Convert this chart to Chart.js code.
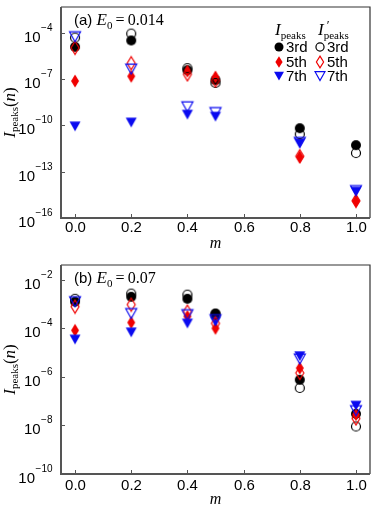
<!DOCTYPE html>
<html>
<head>
<meta charset="utf-8">
<script src="https://cdn.jsdelivr.net/npm/chart.js@4.4.0/dist/chart.umd.min.js"></script>
<style>
  html, body { margin: 0; padding: 0; background: #fff; }
  .panel { width: 382px; height: 258px; }
  canvas { display: block; }
</style>
</head>
<body>
<div class="panel"><canvas id="chartA" width="382" height="258"></canvas></div>
<div class="panel"><canvas id="chartB" width="382" height="258"></canvas></div>
<script>
const M_VALUES = [0.0, 0.2, 0.4, 0.5, 0.8, 1.0];
const X_TICKS = [0, 0.2, 0.4, 0.6, 0.8, 1.0];

// (a) E0 = 0.014
const A_Y_TICKS = [1e-16, 1e-13, 1e-10, 1e-7, 1e-4];
const A_PEAKS_3RD = [1.2e-5, 3.1e-5, 3.7e-7, 8.5e-8, 6.5e-11, 5.2e-12];
const A_PEAKS_5TH = [7.4e-8, 1.5e-7, 3.2e-7, 1.35e-7, 9.1e-13, 1.26e-15];
const A_PEAKS_7TH = [8.7e-11, 1.55e-10, 5.0e-10, 3.7e-10, 7.1e-12, 5.2e-15];
const A_PRIME_3RD = [4.8e-5, 8.7e-5, 5.0e-7, 5.5e-8, 2.7e-11, 1.6e-12];
const A_PRIME_5TH = [1.05e-5, 1.05e-6, 2.0e-7, 8.0e-8, 1.0e-12, 1.3e-15];
const A_PRIME_7TH = [5.5e-5, 4.4e-7, 1.6e-9, 6.8e-10, 8.0e-12, 6.0e-15];

// (b) E0 = 0.07
const B_Y_TICKS = [1e-10, 1e-8, 1e-6, 1e-4, 1e-2];
const B_PEAKS_3RD = [1.26e-3, 2.0e-3, 1.65e-3, 4.1e-4, 7.6e-7, 3.0e-8];
const B_PEAKS_5TH = [8.3e-5, 1.74e-4, 3.1e-4, 1.0e-4, 2.3e-6, 2.8e-8];
const B_PEAKS_7TH = [3.5e-5, 6.9e-5, 1.6e-4, 1.95e-4, 7.2e-6, 6.6e-8];
const B_PRIME_3RD = [1.65e-3, 2.7e-3, 2.45e-3, 3.8e-4, 3.5e-7, 9.1e-9];
const B_PRIME_5TH = [7.9e-4, 9.5e-4, 4.9e-4, 1.6e-4, 1.45e-6, 1.95e-8];
const B_PRIME_7TH = [1.26e-3, 4.1e-4, 3.7e-4, 2.3e-4, 5.5e-6, 4.1e-8];

const SANS = '"Liberation Sans", Arial, sans-serif';
const SERIF = '"Liberation Serif", "Times New Roman", serif';
const RED = '#f00000';
const BLUE = '#0a0af0';

function drawMarker(ctx, kind, x, y, s) {
  ctx.save();
  ctx.translate(x, y);
  ctx.scale(s, s);
  ctx.lineWidth = 1.2 / s;
  ctx.beginPath();
  if (kind.startsWith('circle')) {
    ctx.arc(0, 0, kind === 'circle' ? 5 : 4.5, 0, Math.PI * 2);
  } else if (kind.startsWith('diamond')) {
    ctx.moveTo(0, -6.5); ctx.lineTo(4, 0); ctx.lineTo(0, 6.5); ctx.lineTo(-4, 0); ctx.closePath();
  } else {
    ctx.moveTo(-5.5, -4.8); ctx.lineTo(5.5, -4.8); ctx.lineTo(0, 5); ctx.closePath();
  }
  const col = kind.startsWith('circle') ? '#000' : kind.startsWith('diamond') ? RED : BLUE;
  if (kind.endsWith('Open')) { ctx.strokeStyle = col; ctx.stroke(); }
  else { ctx.fillStyle = col; ctx.fill(); }
  ctx.restore();
}

function markerImage(kind) {
  const c = document.createElement('canvas');
  c.width = 16; c.height = 16;
  drawMarker(c.getContext('2d'), kind, 8, 8, 1);
  return c;
}

function pts(vals) {
  return vals.map((v, i) => ({ x: M_VALUES[i], y: v }));
}

function makeDatasets(p3, p5, p7, q3, q5, q7) {
  const spec = [
    ['I_peaks 3rd', p3, 'circle', 6],
    ['I_peaks 5th', p5, 'diamond', 5],
    ['I_peaks 7th', p7, 'tri', 4],
    ["I'_peaks 3rd", q3, 'circleOpen', 3],
    ["I'_peaks 5th", q5, 'diamondOpen', 2],
    ["I'_peaks 7th", q7, 'triOpen', 1],
  ];
  return spec.map(([label, vals, kind, order]) => ({
    label, data: pts(vals), order,
    pointStyle: markerImage(kind), pointRadius: 6, pointHoverRadius: 6,
  }));
}

function rich(ctx, parts, x, y, align) {
  let w = 0;
  parts.forEach((p) => { ctx.font = p.font; p.w = ctx.measureText(p.t).width; w += p.adv === 0 ? 0 : p.w; });
  let cx = align === 'center' ? x - w / 2 : x;
  ctx.textAlign = 'left';
  ctx.textBaseline = 'alphabetic';
  parts.forEach((p) => {
    ctx.font = p.font;
    ctx.fillText(p.t, cx + (p.dx || 0), y + (p.dy || 0));
    if (p.adv !== 0) cx += p.w;
  });
}

const decoPlugin = {
  id: 'deco',
  afterDraw(chart, args, opts) {
    const ctx = chart.ctx;
    const a = chart.chartArea;
    const xs = chart.scales.x, ys = chart.scales.y;
    ctx.save();
    ctx.fillStyle = '#000';
    // frame
    ctx.strokeStyle = '#333';
    ctx.lineWidth = 1.2;
    ctx.beginPath();
    ctx.moveTo(a.left, a.top); ctx.lineTo(a.right, a.top); ctx.lineTo(a.right, a.bottom);
    ctx.stroke();
    ctx.strokeStyle = '#555';
    ctx.lineWidth = 2;
    ctx.beginPath();
    ctx.moveTo(a.left, a.top); ctx.lineTo(a.left, a.bottom); ctx.lineTo(a.right, a.bottom);
    ctx.stroke();
    // ticks
    ctx.lineWidth = 1;
    ctx.strokeStyle = '#555';
    X_TICKS.forEach((t) => {
      const px = Math.round(xs.getPixelForValue(t)) + 0.5;
      ctx.beginPath(); ctx.moveTo(px, a.bottom); ctx.lineTo(px, a.bottom - 4); ctx.stroke();
      ctx.font = '15px ' + SANS;
      ctx.textAlign = 'center'; ctx.textBaseline = 'middle';
      ctx.fillText(t.toFixed(1), px, a.bottom + opts.xLabelGap);
    });
    opts.yTicks.forEach((t) => {
      const py = Math.round(ys.getPixelForValue(t)) + 0.5;
      ctx.beginPath(); ctx.moveTo(a.left, py); ctx.lineTo(a.left + 4, py); ctx.stroke();
      const e = '\u2212' + Math.round(-Math.log10(t));
      ctx.font = '10px ' + SANS;
      const ew = ctx.measureText(e).width;
      ctx.font = '15px ' + SANS;
      const bw = ctx.measureText('10').width;
      const x0 = 52 - ew - bw;
      ctx.textAlign = 'left'; ctx.textBaseline = 'middle';
      ctx.fillText('10', x0, py + 4);
      ctx.font = '10px ' + SANS;
      ctx.fillText(e, x0 + bw + 0.5, py - 5);
    });
    // axis titles
    rich(ctx, [{ t: 'm', font: 'italic 16px ' + SERIF }], (a.left + a.right) / 2, a.bottom + opts.xTitleGap, 'center');
    ctx.save();
    ctx.translate(15, (a.top + a.bottom) / 2);
    ctx.rotate(-Math.PI / 2);
    rich(ctx, [
      { t: 'I', font: 'italic 17px ' + SERIF },
      { t: 'peaks', font: '11px ' + SERIF, dy: 3 },
      { t: '(', font: '17px ' + SERIF },
      { t: 'n', font: 'italic 17px ' + SERIF },
      { t: ')', font: '17px ' + SERIF },
    ], 0, 0, 'center');
    ctx.restore();
    // panel label
    rich(ctx, [
      { t: opts.tag + ' ', font: '15px ' + SANS },
      { t: 'E', font: 'italic 17px ' + SERIF },
      { t: '0', font: '11px ' + SERIF, dy: 4 },
      { t: '\u2009=\u2009', font: '16px ' + SERIF },
      { t: opts.e0, font: '16px ' + SERIF },
    ], a.left + 13, a.top + 18, 'left');
    // legend
    if (opts.legend) {
      rich(ctx, [
        { t: 'I', font: 'italic 17px ' + SERIF },
        { t: 'peaks', font: '11px ' + SERIF, dy: 4 },
      ], 275, 35, 'left');
      rich(ctx, [
        { t: 'I', font: 'italic 17px ' + SERIF },
        { t: '\u2032', font: '13px ' + SERIF, dx: 3, dy: -6, adv: 0 },
        { t: 'peaks', font: '11px ' + SERIF, dy: 4 },
      ], 318, 35, 'left');
      const rows = [['3rd', 'circle', 47], ['5th', 'diamond', 62], ['7th', 'tri', 76]];
      rows.forEach(([txt, kind, ry]) => {
        drawMarker(ctx, kind, 279, ry, 0.9);
        drawMarker(ctx, kind + 'Open', 320, ry, 0.9);
        ctx.fillStyle = '#000';
        ctx.font = '15px ' + SANS;
        ctx.textAlign = 'left'; ctx.textBaseline = 'middle';
        ctx.fillText(txt, 286, ry + 1);
        ctx.fillText(txt, 327, ry + 1);
      });
    }
    ctx.restore();
  },
};

function buildChart(id, datasets, yMin, yMax, pad, xHeight, deco) {
  return new Chart(document.getElementById(id), {
    type: 'scatter',
    data: { datasets },
    plugins: [decoPlugin],
    options: {
      responsive: false,
      devicePixelRatio: 1,
      animation: false,
      layout: { padding: { top: pad, right: 12, left: 0, bottom: 0 } },
      plugins: { legend: { display: false }, tooltip: { enabled: false }, deco },
      scales: {
        x: {
          type: 'linear', min: -0.05, max: 1.05,
          grid: { display: false }, border: { display: false },
          ticks: { display: false },
          afterFit: (s) => { s.height = xHeight; },
        },
        y: {
          type: 'logarithmic', min: yMin, max: yMax,
          grid: { display: false }, border: { display: false },
          ticks: { display: false },
          afterFit: (s) => { s.width = 61; },
        },
      },
    },
  });
}

buildChart('chartA',
  makeDatasets(A_PEAKS_3RD, A_PEAKS_5TH, A_PEAKS_7TH, A_PRIME_3RD, A_PRIME_5TH, A_PRIME_7TH),
  1e-16, Math.pow(10, -2.34), 4, 40,
  { tag: '(a)', e0: '0.014', yTicks: A_Y_TICKS, legend: true, xLabelGap: 10, xTitleGap: 30 });

buildChart('chartB',
  makeDatasets(B_PEAKS_3RD, B_PEAKS_5TH, B_PEAKS_7TH, B_PRIME_3RD, B_PRIME_5TH, B_PRIME_7TH),
  1e-10, Math.pow(10, -1.39), 5, 42,
  { tag: '(b)', e0: '0.07', yTicks: B_Y_TICKS, legend: false, xLabelGap: 12, xTitleGap: 30 });
</script>
</body>
</html>
